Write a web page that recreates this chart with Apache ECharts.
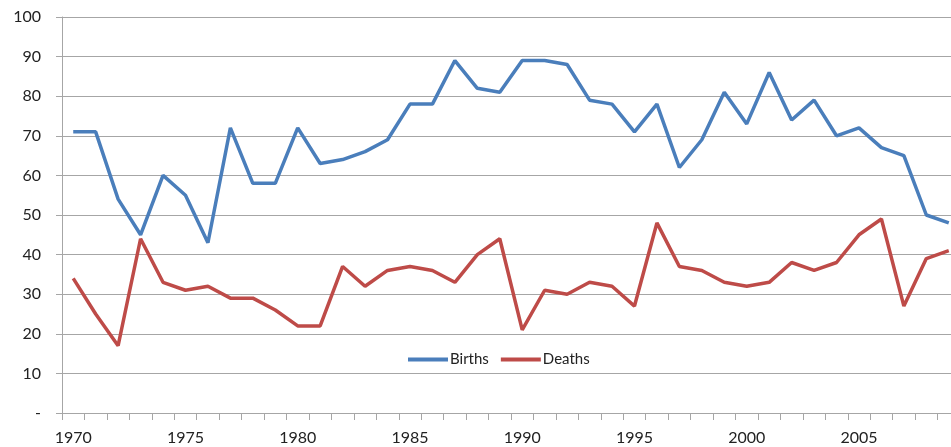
<!DOCTYPE html>
<html>
<head>
<meta charset="utf-8">
<script src="https://cdn.jsdelivr.net/npm/echarts@6/dist/echarts.min.js"></script>
<style>
  html, body { margin: 0; padding: 0; background: #fff; }
  #chart { width: 951px; height: 447px; }
</style>
</head>
<body>
<div id="chart"></div>
<script>
const years = []
for (let y = 1970; y <= 2009; y++) years.push(String(y))

const births = [71, 71, 54, 45, 60, 55, 43, 72, 58, 58,
  72, 63, 64, 66, 69, 78, 78, 89, 82, 81,
  89, 89, 88, 79, 78, 71, 78, 62, 69, 81,
  73, 86, 74, 79, 70, 72, 67, 65, 50, 48]

const deaths = [34, 25, 17, 44, 33, 31, 32, 29, 29, 26,
  22, 22, 37, 32, 36, 37, 36, 33, 40, 44,
  21, 31, 30, 33, 32, 27, 48, 37, 36, 33,
  32, 33, 38, 36, 38, 45, 49, 27, 39, 41]

const textStyle = { color: '#222', fontFamily: 'Lato', fontSize: 16 }
const gridColor = '#a6a6a6'

const chart = echarts.init(document.getElementById('chart'))
chart.setOption({
  animation: false,
  backgroundColor: '#fff',
  grid: { left: 62, top: 17, width: 898, bottom: 34, outerBoundsMode: 'none', containLabel: false },
  legend: {
    left: 403,
    top: 347,
    itemWidth: 40,
    itemHeight: 4,
    itemGap: 12,
    icon: 'rect',
    textStyle: { ...textStyle, fontSize: 15, padding: [0, 0, 0, -3] },
    data: ['Births', 'Deaths'],
  },
  xAxis: {
    type: 'category',
    data: years,
    boundaryGap: true,
    axisLine: { lineStyle: { color: gridColor, width: 1 } },
    axisTick: { show: true, interval: 0, length: 7, lineStyle: { color: gridColor } },
    axisLabel: { ...textStyle, interval: 4, margin: 17 },
  },
  yAxis: {
    type: 'value',
    min: 0,
    max: 100,
    interval: 10,
    axisLine: { show: true, lineStyle: { color: gridColor, width: 1 } },
    axisTick: { show: true, length: 6, lineStyle: { color: gridColor } },
    axisLabel: {
      ...textStyle,
      margin: 21,
      formatter: v => (v === 0 ? '-' : String(v)),
    },
    splitLine: { lineStyle: { color: gridColor, width: 1 } },
  },
  series: [
    {
      name: 'Births',
      type: 'line',
      data: births,
      symbol: 'none',
      color: '#4a7ebb',
      lineStyle: { width: 3.5, color: '#4a7ebb' },
    },
    {
      name: 'Deaths',
      type: 'line',
      data: deaths,
      symbol: 'none',
      color: '#be4b48',
      lineStyle: { width: 3.5, color: '#be4b48' },
    },
  ],
})
</script>
</body>
</html>
